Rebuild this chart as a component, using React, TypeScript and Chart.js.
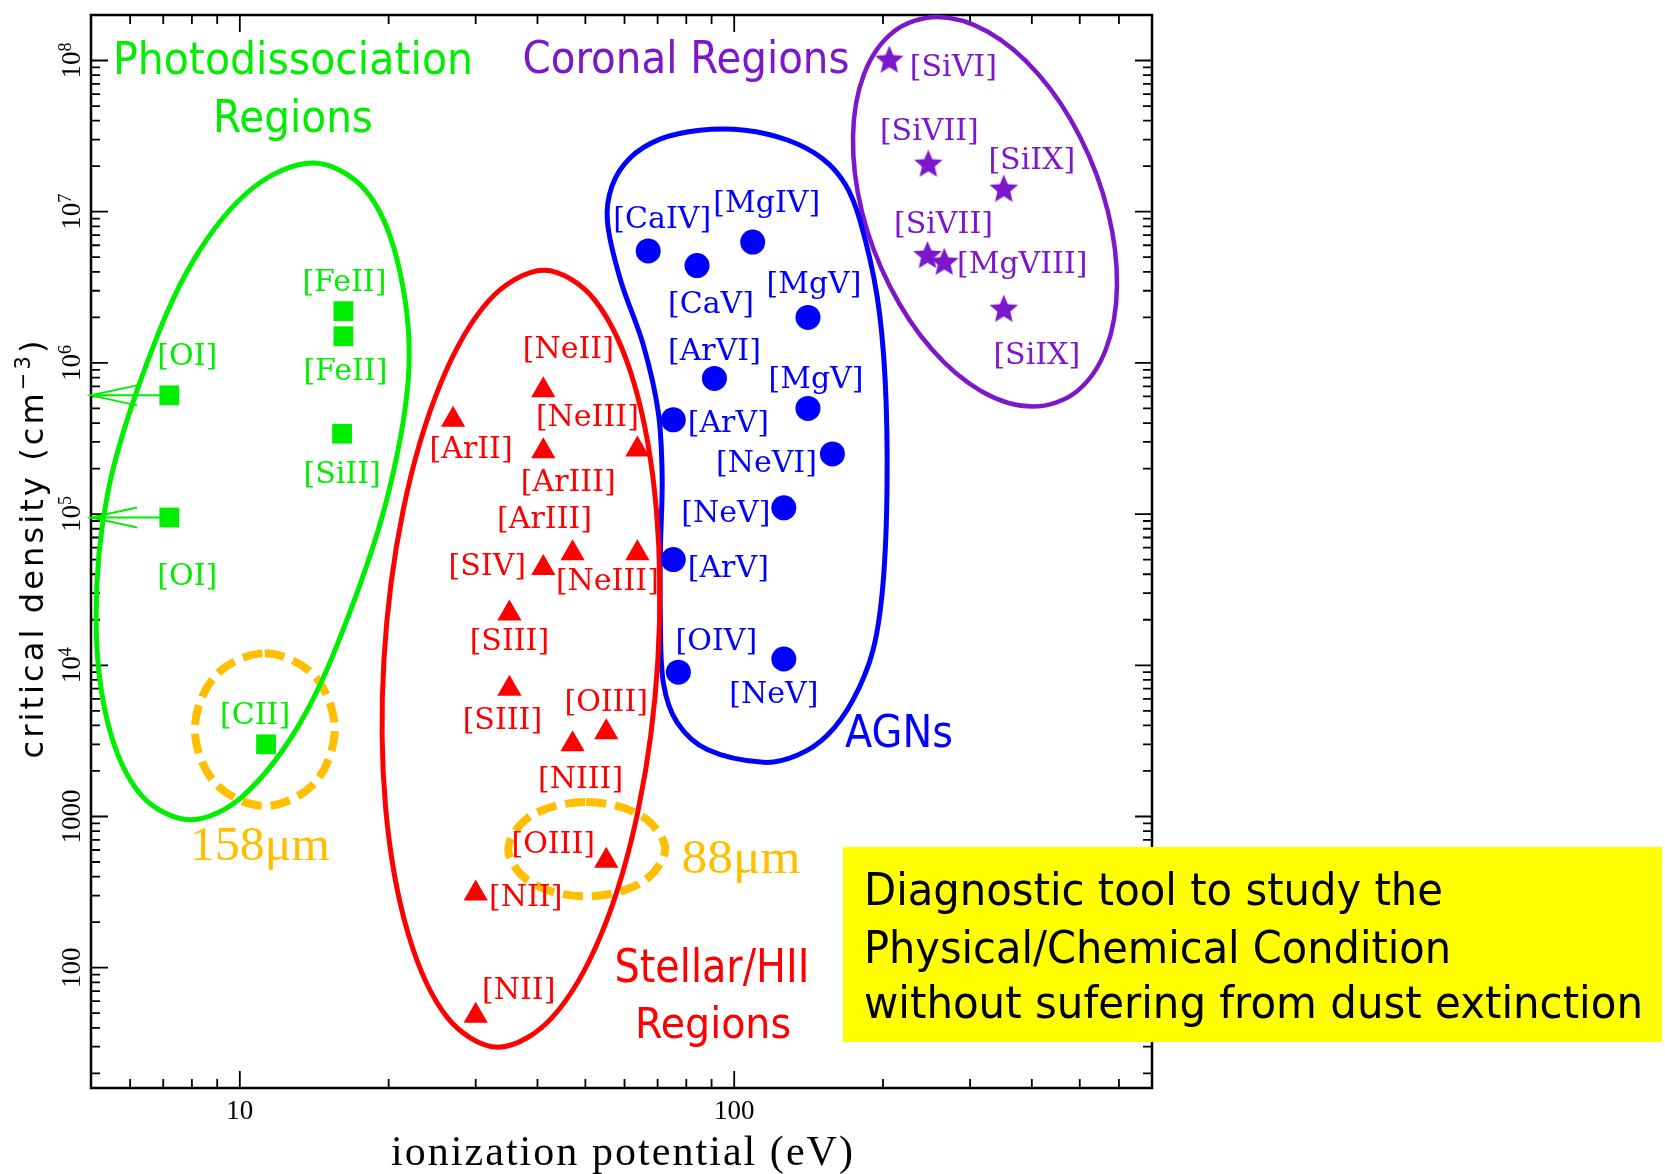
import React, { useEffect, useRef } from 'react';
import { Chart, registerables } from 'chart.js';

Chart.register(...registerables);

// ---------------- canvas / plot frame ----------------
const CANVAS_W = 1665;
const CANVAS_H = 1174;
const PLOT_LEFT = 91;
const PLOT_TOP = 8;
const PLOT_RIGHT = 1152;
const PLOT_BOTTOM = 1088;

// ---------------- axes ----------------
const X_RANGE = [5, 700];
const Y_RANGE = [16, 2e8];
const X_TICK_VALUES = [10, 100];
const X_TICK_LABELS = ['10', '100'];
const Y_TICK_VALUES = [100, 1000, 1e4, 1e5, 1e6, 1e7, 1e8];
const Y_TICK_BASES = ['100', '1000', '10', '10', '10', '10', '10'];
const Y_TICK_EXPONENTS = ['', '', '4', '5', '6', '7', '8'];
const X_TITLE = 'ionization potential (eV)';
const Y_TITLE_MAIN = 'critical density (cm';
const Y_TITLE_SUP = '\u22123';
const Y_TITLE_END = ')';

// ---------------- data: photodissociation regions (green squares) ----------------
const PDR_LINES = ['[OI]', '[OI]', '[FeII]', '[FeII]', '[SiII]', '[CII]'];
const PDR_IP = [7.2, 7.2, 16.2, 16.2, 16.1, 11.3];
const PDR_NCRIT = [6.1e5, 9.5e4, 2.2e6, 1.5e6, 3.4e5, 3.0e3];
const PDR_UPPER_LIMIT = [true, true, false, false, false, false];

// ---------------- data: stellar / HII regions (red triangles) ----------------
const HII_LINES = ['[NeII]', '[ArII]', '[ArIII]', '[NeIII]', '[SIV]', '[ArIII]', '[NeIII]', '[SIII]', '[SIII]', '[OIII]', '[NIII]', '[OIII]', '[NII]', '[NII]'];
const HII_IP = [41.1, 27.0, 41.1, 63.7, 41.1, 47.1, 63.7, 35.1, 35.1, 55.1, 47.1, 55.1, 30.0, 30.0];
const HII_NCRIT = [6.6e5, 4.2e5, 2.6e5, 2.67e5, 4.4e4, 5.5e4, 5.5e4, 2.2e4, 7.0e3, 3.6e3, 3.0e3, 510, 310, 48];

// ---------------- data: AGN (blue circles) ----------------
const AGN_LINES = ['[CaIV]', '[CaV]', '[MgIV]', '[MgV]', '[ArVI]', '[MgV]', '[ArV]', '[NeVI]', '[NeV]', '[ArV]', '[OIV]', '[NeV]'];
const AGN_IP = [67.0, 84.1, 109, 141, 91.2, 141, 75.3, 158, 126, 75.3, 77.1, 126];
const AGN_NCRIT = [5.5e6, 4.4e6, 6.3e6, 2.0e6, 7.9e5, 5.0e5, 4.2e5, 2.5e5, 1.1e5, 5.0e4, 9.0e3, 1.1e4];

// ---------------- data: coronal regions (purple stars) ----------------
const COR_LINES = ['[SiVI]', '[SiVII]', '[SiIX]', '[SiVII]', '[MgVIII]', '[SiIX]'];
const COR_IP = [206, 247, 351, 246, 266, 351];
const COR_NCRIT = [1.0e8, 2.05e7, 1.4e7, 5.1e6, 4.6e6, 2.25e6];

// ---------------- region outlines (control points) ----------------
const PDR_CONTOUR_X = [14.13, 17.92, 20.79, 21.99, 20.03, 16.55, 13.23, 10.10, 7.93, 6.31, 5.41, 5.12, 5.41, 6.46, 8.08, 10.63];
const PDR_CONTOUR_Y = [2.10e7, 1.395e7, 4.84e6, 9.58e5, 1.424e5, 2.084e4, 4129, 1348, 951, 1389, 4129, 2.084e4, 1.402e5, 9.58e5, 4.84e6, 1.438e7];

const HII_CONTOUR_X = [41.24, 52.2, 62.8, 69.6, 70.1, 64.1, 53.9, 42.8, 33.3, 26.3, 21.9, 19.72, 19.57, 21.4, 25.45, 32.0];
const HII_CONTOUR_Y = [4.1e6, 2.61e6, 7.24e5, 1.06e5, 1.10e4, 1148, 168, 46.7, 29.8, 46.7, 168, 1148, 1.10e4, 1.06e5, 7.24e5, 2.61e6];

const AGN_CONTOUR_X = [85.2, 105.1, 128.5, 150.5, 167.5, 179.7, 194.5, 201.9, 203.8, 200.0, 190.9, 173.9, 154.1, 134.1, 114.5, 88.2, 76.7, 71.9, 70.9, 70.9, 71.5, 70.2, 65.5, 58.8, 55.4, 56.6, 61.5, 70.8];
const AGN_CONTOUR_Y = [3.46e7, 3.46e7, 2.97e7, 2.26e7, 1.53e7, 8.73e6, 2.78e6, 7.93e5, 1.57e5, 3.47e4, 1.26e4, 5910, 3430, 2540, 2280, 2770, 4170, 7640, 2.10e4, 5.71e4, 1.75e5, 4.74e5, 1.31e6, 3.59e6, 8.63e6, 1.48e7, 2.26e7, 3.02e7];

const COR_CONTOUR_X = [257.2, 325.8, 411.9, 501.0, 570.2, 594.6, 564.8, 492.2, 402.2, 317.4, 251.0, 206.4, 181.3, 173.9, 183.1, 210.1];
const COR_CONTOUR_Y = [1.94e8, 1.55e8, 8.14e7, 3.11e7, 1.0e7, 3.22e6, 1.23e6, 6.45e5, 5.15e5, 6.45e5, 1.23e6, 3.22e6, 1.0e7, 3.11e7, 8.14e7, 1.55e8];

const CII_RING_X = [11.23, 14.14, 15.56, 14.14, 11.23, 8.93, 8.11, 8.93];
const CII_RING_Y = [1.20e4, 8550, 3760, 1650, 1172, 1650, 3760, 8550];

const OIII_RING_X = [50.2, 65.0, 72.5, 65.0, 50.2, 38.8, 34.9, 38.8];
const OIII_RING_Y = [1245, 1008, 607, 366, 296, 366, 607, 1008];

// ---------------- label layout (pixel offsets from each marker) ----------------
const PDR_LABEL_OFFSETS = [[18, -30], [18, 68], [1, -20], [2, 44], [0, 49], [-11, -20]];
const HII_LABEL_OFFSETS = [[25, -32], [18, 38], [25, 40], [-50, -24], [-56, 7], [-28, -25], [-30, 37], [0, 36], [-7, 40], [0, -21], [8, 44], [-53, -8], [50, 13], [43, -17]];
const AGN_LABEL_OFFSETS = [[14, -23], [14, 47], [14, -30], [6, -24], [0, -18], [8, -20], [55, 12], [-66, 18], [-58, 14], [55, 17], [38, -22], [-10, 44]];
const COR_LABEL_OFFSETS = [[64, 15], [1, -25], [28, -21], [16, -23], [78, 10], [33, 54]];

// ---------------- colours ----------------
const GREEN = '#00ee00';
const RED = '#ff0000';
const BLUE = '#0000ff';
const PURPLE = '#7c17cc';
const ORANGE = '#ffbf00';

// ---------------- free text ----------------
const REGION_TITLES = [
  { text: 'Photodissociation', cx: 293, by: 74, size: 44, width: 360, color: GREEN },
  { text: 'Regions', cx: 293, by: 132, size: 44, width: 160, color: GREEN },
  { text: 'Coronal Regions', cx: 686, by: 73, size: 44, width: 327, color: PURPLE },
  { text: 'AGNs', cx: 899, by: 747, size: 44, width: 108, color: BLUE },
  { text: 'Stellar/HII', cx: 712, by: 982, size: 46, width: 195, color: RED },
  { text: 'Regions', cx: 713, by: 1038, size: 43, width: 156, color: RED },
];
const WAVE_TITLES = [
  { text: '158\u03bcm', cx: 260, by: 860, size: 48, width: 140, color: ORANGE },
  { text: '88\u03bcm', cx: 741, by: 873, size: 49, width: 119, color: ORANGE },
];
const NOTE_LINES = ['Diagnostic tool to study the', 'Physical/Chemical Condition', 'without sufering from dust extinction'];
const NOTE_BASELINES = [905, 963, 1018];
const NOTE_WIDTHS = [579, 587, 779];
const NOTE_BOX = { x: 843, y: 847, w: 819, h: 195, textX: 864 };

// ---------------- helpers ----------------
function makeStar(color: string, R: number) {
  const c = document.createElement('canvas');
  const s = Math.ceil(R * 2 + 2);
  c.width = s;
  c.height = s;
  const g = c.getContext('2d')!;
  g.fillStyle = color;
  g.beginPath();
  for (let i = 0; i < 10; i++) {
    const r = i % 2 === 0 ? R : R * 0.45;
    const a = -Math.PI / 2 + (i * Math.PI) / 5;
    const px = s / 2 + r * Math.cos(a);
    const py = s / 2 + r * Math.sin(a);
    if (i === 0) g.moveTo(px, py);
    else g.lineTo(px, py);
  }
  g.closePath();
  g.fill();
  return c;
}

function toPoints(xs: number[], ys: number[]) {
  return xs.map((x, i) => ({ x, y: ys[i] }));
}

function contourDataset(xs: number[], ys: number[], color: string, width: number, dash?: number[]) {
  const pts = toPoints(xs, ys);
  const n = pts.length;
  const data = [pts[n - 1], ...pts, pts[0], pts[1]];
  const lastHidden = n + 1;
  return {
    type: 'line',
    data,
    borderColor: color,
    borderWidth: width,
    borderDash: dash || [],
    pointRadius: 0,
    pointHoverRadius: 0,
    tension: 0.34,
    fill: false,
    clip: false,
    order: 2,
    segment: {
      borderColor: (c: any) =>
        c.p0DataIndex === 0 || c.p0DataIndex === lastHidden ? 'rgba(0,0,0,0)' : undefined,
    },
  };
}

function pointDataset(xs: number[], ys: number[], color: string, style: any, radius: number) {
  return {
    type: 'line',
    data: toPoints(xs, ys),
    showLine: false,
    pointStyle: style,
    pointRadius: radius,
    pointHoverRadius: radius,
    pointBackgroundColor: color,
    pointBorderColor: color,
    pointBorderWidth: 0,
    clip: false,
    order: 0,
  };
}

function fitText(ctx: CanvasRenderingContext2D, text: string, cx: number, by: number, font: string, width: number, color: string, align: CanvasTextAlign = 'center') {
  ctx.save();
  ctx.font = font;
  ctx.fillStyle = color;
  ctx.textAlign = align;
  ctx.textBaseline = 'alphabetic';
  const w = ctx.measureText(text).width;
  ctx.translate(cx, by);
  ctx.scale(width / w, 1);
  ctx.fillText(text, 0, 0);
  ctx.restore();
}

type Part = { text: string; font: string; dy: number };
function spacedText(ctx: CanvasRenderingContext2D, parts: Part[], cx: number, by: number, width: number, color: string, angle: number) {
  ctx.save();
  ctx.translate(cx, by);
  ctx.rotate(angle);
  ctx.fillStyle = color;
  ctx.textAlign = 'left';
  ctx.textBaseline = 'alphabetic';
  const anyCtx = ctx as any;
  const hasLS = 'letterSpacing' in anyCtx;
  if (hasLS) anyCtx.letterSpacing = '0px';
  const widths = parts.map((p) => {
    ctx.font = p.font;
    return ctx.measureText(p.text).width;
  });
  const natural = widths.reduce((a, b) => a + b, 0);
  const nChars = parts.reduce((a, p) => a + [...p.text].length, 0);
  let ls = 0;
  if (hasLS) ls = (width - natural) / nChars;
  else ctx.scale(width / natural, 1);
  let x = hasLS ? -width / 2 : -natural / 2;
  parts.forEach((p, i) => {
    ctx.font = p.font;
    if (hasLS) anyCtx.letterSpacing = ls + 'px';
    ctx.fillText(p.text, x, p.dy);
    x += widths[i] + (hasLS ? ls * [...p.text].length : 0);
  });
  ctx.restore();
}

function logTicks(min: number, max: number) {
  const out: { v: number; major: boolean }[] = [];
  for (let e = Math.floor(Math.log10(min)); e <= Math.ceil(Math.log10(max)); e++) {
    for (let m = 1; m <= 9; m++) {
      const v = m * Math.pow(10, e);
      if (v > min * 1.0001 && v < max * 0.9999) out.push({ v, major: m === 1 });
    }
  }
  return out;
}

const App = () => {
  const ref = useRef<HTMLCanvasElement | null>(null);

  useEffect(() => {
    const canvas = ref.current;
    if (!canvas) return;

    const star = makeStar(PURPLE, 15);

    const SERIES = [
      { xs: PDR_IP, ys: PDR_NCRIT, names: PDR_LINES, offsets: PDR_LABEL_OFFSETS, color: GREEN },
      { xs: HII_IP, ys: HII_NCRIT, names: HII_LINES, offsets: HII_LABEL_OFFSETS, color: RED },
      { xs: AGN_IP, ys: AGN_NCRIT, names: AGN_LINES, offsets: AGN_LABEL_OFFSETS, color: BLUE },
      { xs: COR_IP, ys: COR_NCRIT, names: COR_LINES, offsets: COR_LABEL_OFFSETS, color: PURPLE },
    ];

    const framePlugin = {
      id: 'frame',
      beforeDatasetsDraw(chart: any) {
        const { ctx, chartArea: a, scales } = chart;
        const xs = scales.x;
        const ys = scales.y;
        ctx.save();
        ctx.strokeStyle = '#000';
        ctx.lineWidth = 1.8;
        ctx.beginPath();
        for (const t of logTicks(xs.min, xs.max)) {
          const px = xs.getPixelForValue(t.v);
          const len = t.major ? 17 : 9;
          ctx.moveTo(px, a.bottom);
          ctx.lineTo(px, a.bottom - len);
          ctx.moveTo(px, a.top);
          ctx.lineTo(px, a.top + len);
        }
        for (const t of logTicks(ys.min, ys.max)) {
          const py = ys.getPixelForValue(t.v);
          const len = t.major ? 17 : 9;
          ctx.moveTo(a.left, py);
          ctx.lineTo(a.left + len, py);
          ctx.moveTo(a.right, py);
          ctx.lineTo(a.right - len, py);
        }
        ctx.stroke();
        ctx.lineWidth = 2.5;
        ctx.strokeRect(a.left, a.top, a.right - a.left, a.bottom - a.top);

        // upper-limit arrows for the [OI] lines
        ctx.strokeStyle = GREEN;
        ctx.lineWidth = 2;
        ctx.beginPath();
        PDR_IP.forEach((xv, i) => {
          if (!PDR_UPPER_LIMIT[i]) return;
          const px = xs.getPixelForValue(xv);
          const py = ys.getPixelForValue(PDR_NCRIT[i]);
          ctx.moveTo(px, py);
          ctx.lineTo(a.left, py);
          ctx.moveTo(a.left + 46, py - 10);
          ctx.lineTo(a.left, py);
          ctx.lineTo(a.left + 46, py + 10);
        });
        ctx.stroke();
        ctx.restore();
      },
    };

    const textPlugin = {
      id: 'texts',
      afterDatasetsDraw(chart: any) {
        const { ctx, chartArea: a, scales } = chart;
        const xs = scales.x;
        const ys = scales.y;

        // marker labels
        ctx.save();
        ctx.font = '30px "DejaVu Serif"';
        ctx.textAlign = 'center';
        ctx.textBaseline = 'alphabetic';
        for (const s of SERIES) {
          ctx.fillStyle = s.color;
          s.names.forEach((name, i) => {
            const px = xs.getPixelForValue(s.xs[i]) + s.offsets[i][0];
            const py = ys.getPixelForValue(s.ys[i]) + s.offsets[i][1];
            ctx.fillText(name, px, py);
          });
        }
        ctx.restore();

        // region titles
        for (const t of REGION_TITLES) {
          fitText(ctx, t.text, t.cx, t.by, `${t.size}px "DejaVu Sans"`, t.width, t.color);
        }
        for (const t of WAVE_TITLES) {
          fitText(ctx, t.text, t.cx, t.by, `${t.size}px "Liberation Serif"`, t.width, t.color);
        }

        // x tick labels
        ctx.save();
        ctx.fillStyle = '#000';
        ctx.font = '27px "Liberation Serif"';
        ctx.textAlign = 'center';
        ctx.textBaseline = 'alphabetic';
        X_TICK_VALUES.forEach((v, i) => {
          ctx.fillText(X_TICK_LABELS[i], xs.getPixelForValue(v), a.bottom + 31);
        });
        ctx.restore();

        // y tick labels (rotated)
        Y_TICK_VALUES.forEach((v, i) => {
          const py = ys.getPixelForValue(v);
          ctx.save();
          ctx.translate(a.left - 11, py);
          ctx.rotate(-Math.PI / 2);
          ctx.fillStyle = '#000';
          ctx.textBaseline = 'alphabetic';
          ctx.textAlign = 'left';
          ctx.font = '27px "Liberation Serif"';
          const wb = ctx.measureText(Y_TICK_BASES[i]).width;
          ctx.font = '18px "Liberation Serif"';
          const we = Y_TICK_EXPONENTS[i] ? ctx.measureText(Y_TICK_EXPONENTS[i]).width : 0;
          const x0 = -(wb + we) / 2;
          ctx.font = '27px "Liberation Serif"';
          ctx.fillText(Y_TICK_BASES[i], x0, 0);
          if (Y_TICK_EXPONENTS[i]) {
            ctx.font = '18px "Liberation Serif"';
            ctx.fillText(Y_TICK_EXPONENTS[i], x0 + wb, -9);
          }
          ctx.restore();
        });

        // axis titles
        spacedText(ctx, [{ text: X_TITLE, font: '42px "Liberation Serif"', dy: 0 }], 623, 1165, 464, '#000', 0);
        spacedText(
          ctx,
          [
            { text: Y_TITLE_MAIN, font: '32px "DejaVu Sans"', dy: 0 },
            { text: Y_TITLE_SUP, font: '21px "DejaVu Sans"', dy: -13 },
            { text: Y_TITLE_END, font: '32px "DejaVu Sans"', dy: 0 },
          ],
          43,
          548,
          421,
          '#000',
          -Math.PI / 2
        );

        // yellow note box
        ctx.save();
        ctx.fillStyle = '#ffff00';
        ctx.fillRect(NOTE_BOX.x, NOTE_BOX.y, NOTE_BOX.w, NOTE_BOX.h);
        ctx.restore();
        NOTE_LINES.forEach((line, i) => {
          fitText(ctx, line, NOTE_BOX.textX, NOTE_BASELINES[i], '44px "DejaVu Sans"', NOTE_WIDTHS[i], '#000', 'left');
        });
      },
    };

    const datasets: any[] = [
      pointDataset(PDR_IP, PDR_NCRIT, GREEN, 'rect', 14),
      pointDataset(HII_IP, HII_NCRIT, RED, 'triangle', 14),
      pointDataset(AGN_IP, AGN_NCRIT, BLUE, 'circle', 12.5),
      pointDataset(COR_IP, COR_NCRIT, PURPLE, star, 15),
      contourDataset(PDR_CONTOUR_X, PDR_CONTOUR_Y, GREEN, 5),
      contourDataset(HII_CONTOUR_X, HII_CONTOUR_Y, RED, 5),
      contourDataset(AGN_CONTOUR_X, AGN_CONTOUR_Y, BLUE, 5),
      contourDataset(COR_CONTOUR_X, COR_CONTOUR_Y, PURPLE, 4.5),
      contourDataset(CII_RING_X, CII_RING_Y, ORANGE, 8, [20, 9]),
      contourDataset(OIII_RING_X, OIII_RING_Y, ORANGE, 8, [20, 9]),
    ];

    const chart = new Chart(canvas, {
      type: 'line',
      data: { datasets },
      options: {
        responsive: false,
        animation: false,
        devicePixelRatio: 1,
        events: [],
        layout: {
          padding: {
            left: PLOT_LEFT,
            top: PLOT_TOP,
            right: CANVAS_W - PLOT_RIGHT,
            bottom: CANVAS_H - PLOT_BOTTOM,
          },
        },
        scales: {
          x: { type: 'logarithmic', min: X_RANGE[0], max: X_RANGE[1], display: false },
          y: { type: 'logarithmic', min: Y_RANGE[0], max: Y_RANGE[1], display: false },
        },
        plugins: { legend: { display: false }, tooltip: { enabled: false } },
      } as any,
      plugins: [framePlugin, textPlugin],
    } as any);

    return () => chart.destroy();
  }, []);

  return (
    <div style={{ position: 'absolute', left: 0, top: 0, width: CANVAS_W, height: CANVAS_H, background: '#fff' }}>
      <canvas ref={ref} width={CANVAS_W} height={CANVAS_H} style={{ display: 'block', width: CANVAS_W, height: CANVAS_H }} />
    </div>
  );
};

export default App;
